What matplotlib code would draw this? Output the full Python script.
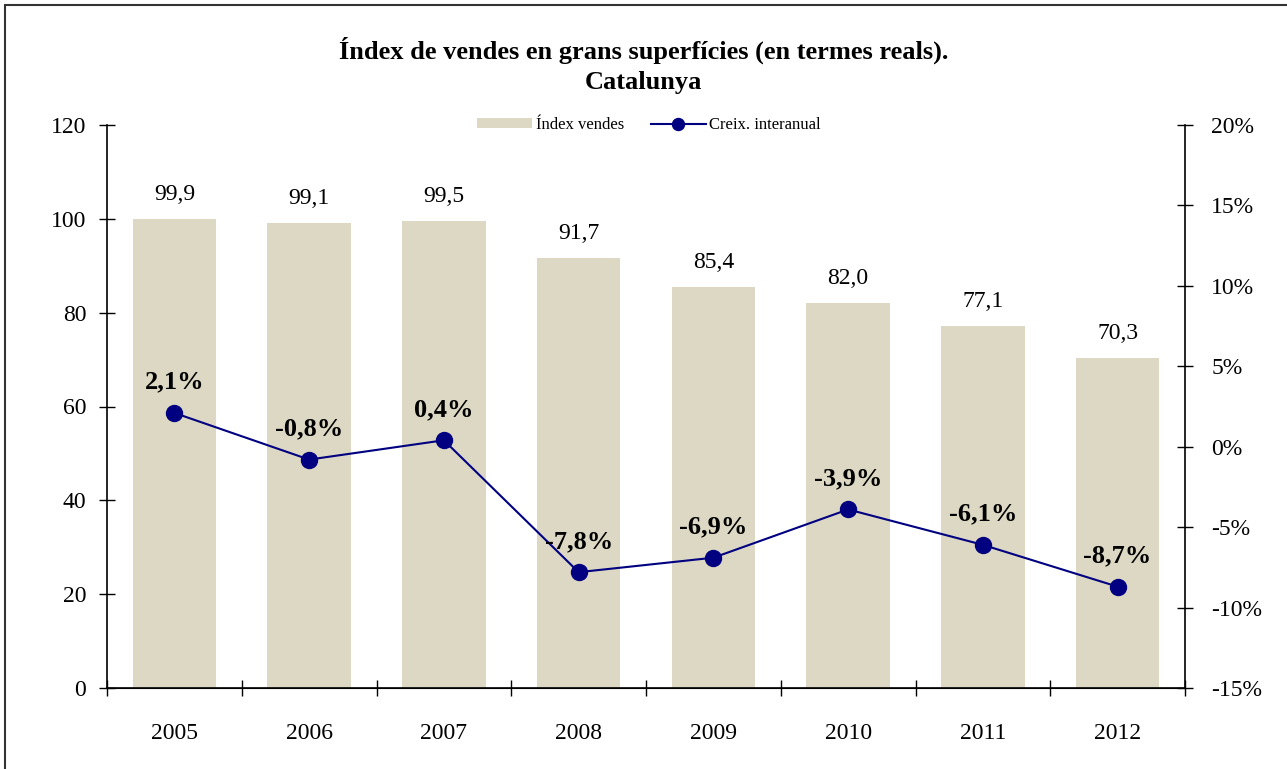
import numpy as np
import matplotlib
matplotlib.use("Agg")
import matplotlib.pyplot as plt
from matplotlib.patches import Rectangle
from matplotlib.ticker import FuncFormatter, MultipleLocator

years = ["2005", "2006", "2007", "2008", "2009", "2010", "2011", "2012"]
index_vals = [99.9, 99.1, 99.5, 91.7, 85.4, 82.0, 77.1, 70.3]
growth = [2.1, -0.8, 0.4, -7.8, -6.9, -3.9, -6.1, -8.7]

plt.rcParams['font.family'] = ['Liberation Serif', 'DejaVu Serif']

fig = plt.figure(figsize=(12.87, 7.69), dpi=100)
ax = fig.add_axes([107 / 1287, 1 - 688 / 769, (1185 - 107) / 1287, (688 - 125) / 769])
ax2 = ax.twinx()

# outer frame (runs off the right/bottom edge like the source)
fig.patches.append(Rectangle((5 / 1287, -0.1), 1.2, 1.1 - 5 / 769, transform=fig.transFigure,
                             fill=False, edgecolor='#333333', linewidth=1.5))

x = np.arange(len(years))
bars = ax.bar(x, index_vals, width=0.62, color='#DDD8C4', label='Índex vendes', zorder=1)
ax.set_xlim(-0.5, len(years) - 0.5)
ax.set_ylim(0, 120)
ax.yaxis.set_major_locator(MultipleLocator(20))
ax.set_xticks(x)
ax.set_xticklabels(years)
ax.set_xticks(np.arange(-0.5, len(years)), minor=True)
ax.tick_params(axis='x', which='major', length=0, pad=25, labelsize=17)
ax.tick_params(axis='x', which='minor', length=12, direction='inout', width=1)
ax.tick_params(axis='y', length=12, direction='inout', width=1, labelsize=17, pad=9)

for xi, v in zip(x, index_vals):
    ax.text(xi, v + 3.0, f"{v:.1f}".replace('.', ','), ha='center', va='bottom', fontsize=17)

line, = ax2.plot(x, growth, color='#000080', marker='o', markersize=11.5, linewidth=1.5,
                 label='Creix. interanual', zorder=3)
ax2.set_ylim(-15, 20)
ax2.yaxis.set_major_locator(MultipleLocator(5))
ax2.yaxis.set_major_formatter(FuncFormatter(lambda v, p: f"{v:.0f}%"))
ax2.tick_params(axis='y', length=12, direction='inout', width=1, labelsize=17, pad=13)

for xi, g in zip(x, growth):
    ax2.text(xi, g + 1.2, f"{g:.1f}%".replace('.', ','), ha='center', va='bottom',
             fontsize=19, fontweight='bold')

for a in (ax, ax2):
    a.spines['top'].set_visible(False)
    a.spines['right'].set_visible(False)
    a.spines['left'].set_visible(False)
ax.spines['left'].set_visible(True)
ax2.spines['right'].set_visible(True)
for s in ('left', 'bottom'):
    ax.spines[s].set_linewidth(1.2)
ax2.spines['right'].set_linewidth(1.2)
ax.set_zorder(0)
ax2.set_zorder(1)
ax.patch.set_visible(True)
ax2.patch.set_visible(False)

fig.text(0.5, 1 - 50 / 769, "Índex de vendes en grans superfícies (en termes reals).",
         ha='center', va='center', fontsize=19, fontweight='bold')
fig.text(0.5, 1 - 83 / 769, "Catalunya", ha='center', va='center', fontsize=19, fontweight='bold')

fig.legend(handles=[bars, line], labels=['Índex vendes', 'Creix. interanual'],
           loc='center', bbox_to_anchor=(649 / 1287, 1 - 125 / 769), ncol=2, frameon=False,
           fontsize=12, handlelength=3.3, handletextpad=0.2, columnspacing=1.6,
           handleheight=0.5, markerscale=0.75)

fig.savefig("out.png", dpi=100)
